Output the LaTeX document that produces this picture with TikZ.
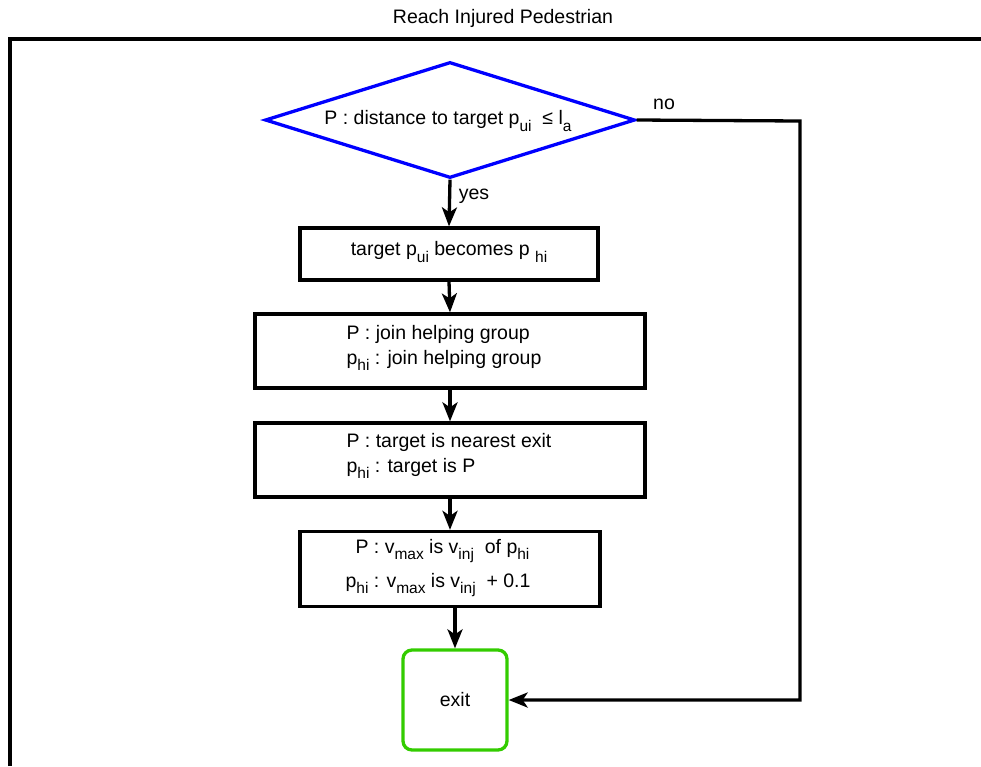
\documentclass[tikz,border=0pt]{standalone}
\usepackage{fontspec}
\setmainfont{Liberation Sans}
\usepackage{tikz}
\usetikzlibrary{shapes.geometric,arrows.meta}

\newcommand{\lowsub}[1]{\raisebox{-6.5pt}{\fontsize{15.5}{15.5}\selectfont #1}}

\begin{document}
\begin{tikzpicture}[
		x=1pt, y=-1pt,
		every node/.style={font=\fontsize{19.5}{25}\selectfont},
		box/.style={rectangle, draw, line width=3.3pt, inner sep=0pt},
		flow/.style={line width=3.3pt, -{Stealth[length=19pt, width=15pt, inset=5pt]}}
	]
  \useasboundingbox (0,0) rectangle (981,766);
  \draw [line width=3.3pt] (10,766) -- (10,39) -- (981,39);
  \node (title) at (503,18) {Reach Injured Pedestrian};
  \node (cond) [diamond, draw=blue, line width=3.3pt, minimum width=370pt, minimum height=116pt, inner sep=0pt] at (450,120) {};
  \node (cond_text) at (448,121) {P : distance to target p\lowsub{ui}\ \ ≤ l\lowsub{a}};
  \node (b_target) [box, minimum width=298pt, minimum height=52pt] at (449,254) {};
  \node (b_target_text) at (449,252) {target p\lowsub{ui}\ becomes p \lowsub{hi}};
  \node (b_group) [box, minimum width=390pt, minimum height=74pt] at (450,351) {};
  \node (b_group_text) [align=left, anchor=west] at (343,348) {P : join helping group\\p\lowsub{hi}\ : join helping group};
  \node (b_exit) [box, minimum width=390pt, minimum height=74pt] at (450,460) {};
  \node (b_exit_text) [align=left, anchor=west] at (343,456) {P : target is nearest exit\\p\lowsub{hi}\ : target is P};
  \node (b_speed) [box, minimum width=300pt, minimum height=75pt] at (450,569) {};
  \node (b_speed_text) [align=left, anchor=west, font=\fontsize{19.5}{34}\selectfont] at (342,568) {\hspace*{10pt}P : v\lowsub{max}\ is v\lowsub{inj}\ \ of p\lowsub{hi}\\p\lowsub{hi}\ : v\lowsub{max}\ is v\lowsub{inj}\ \ + 0.1};
  \node (end) [rectangle, rounded corners=9pt, draw={rgb,255:red,51;green,204;blue,0}, line width=3.3pt, minimum width=104pt, minimum height=100pt] at (455,700) {exit};
  \node (yes) at (474,196) {yes};
  \node (no) at (664,104) {no};
  \coordinate (turn_a) at (800,121);
  \coordinate (turn_b) at (800,700);
  \draw [flow] (cond.south) -- (b_target.north);
  \draw [flow] (b_target.south) -- (b_group.north);
  \draw [flow] (b_group.south) -- (b_exit.north);
  \draw [flow] (b_exit.south) -- (b_speed.north);
  \draw [flow] (b_speed.south -| end.north) -- (end.north);
  \draw [flow] (cond.east) -- (turn_a) -- (turn_b) -- (end.east);
\end{tikzpicture}
\end{document}
